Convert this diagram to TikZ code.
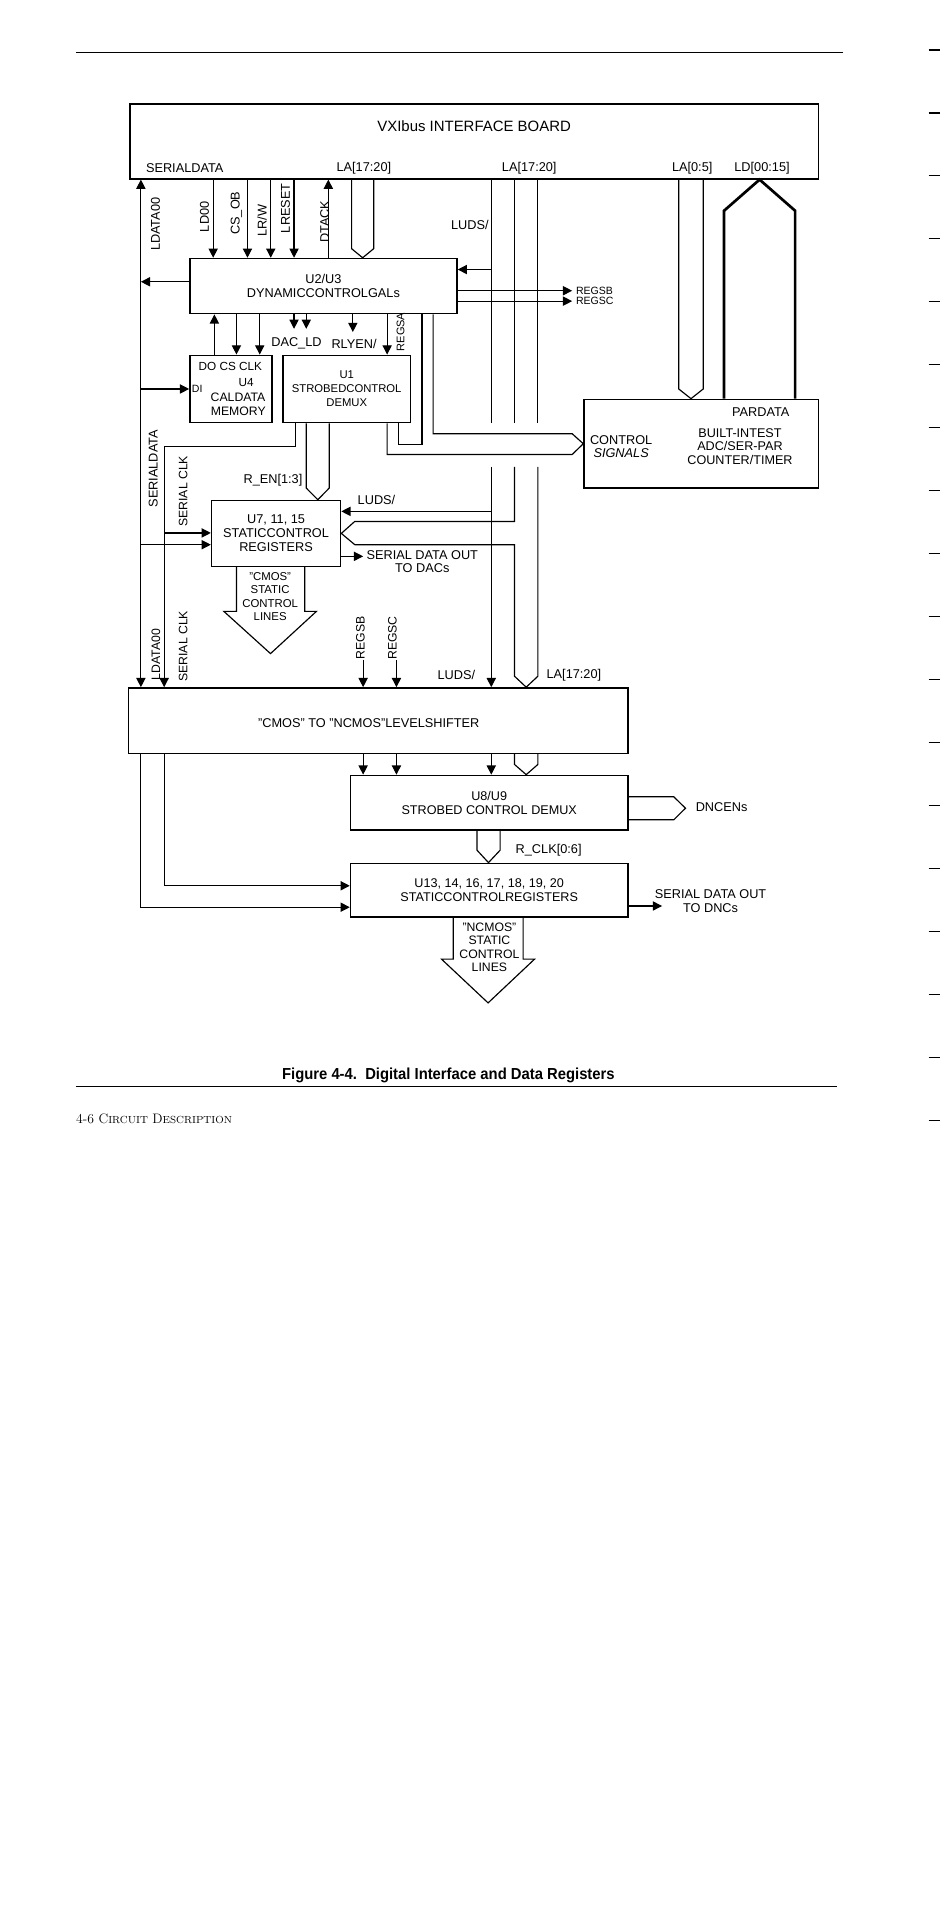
\documentclass[tikz,border=0pt]{standalone}
\usepackage{fontspec}
\setsansfont{Liberation Sans}
\newfontfamily\capfont[FakeStretch=0.93]{Liberation Sans}
\renewcommand{\familydefault}{\sfdefault}
\usetikzlibrary{arrows.meta}
\tikzset{
  bx/.style={draw=black, line width=1.2pt, inner sep=0pt, align=center, font=\fontsize{10.4}{11}\selectfont},
  lb/.style={inner sep=0pt, align=center, font=\fontsize{10.4}{11.4}\selectfont},
  sm/.style={lb, font=\fontsize{8.6}{9.5}\selectfont},
  vl/.style={lb, rotate=90},
  ln/.style={line width=0.95pt},
  ar/.style={ln, -{Triangle[length=7.5pt,width=7.5pt]}},
  dar/.style={ln, {Triangle[length=7.5pt,width=7.5pt]}-{Triangle[length=7.5pt,width=7.5pt]}},
  bus/.style={ln, line join=miter},
}
\begin{document}
\begin{tikzpicture}[x=1pt,y=-1pt]
\useasboundingbox (0,0) rectangle (775,1568);
\fill[white] (0,0) rectangle (775,1568);

% page decorations
\draw[line width=1.3pt] (62,43) -- (688,43);
\foreach \k in {0,...,17} \draw[line width=0.9pt] (758,40.8+51.4*\k) -- (767,40.8+51.4*\k);

% columns
\coordinate (cA) at (115,0);
\coordinate (cB) at (134,0);
\coordinate (cLD) at (174,0);
\coordinate (cCS) at (202,0);
\coordinate (cRW) at (221,0);
\coordinate (cRS) at (240,0);
\coordinate (cDT) at (268,0);
\coordinate (cL1a) at (287,0);
\coordinate (cL1c) at (296,0);
\coordinate (cL1b) at (305,0);
\coordinate (cLU) at (401,0);
\coordinate (cB2a) at (420,0);
\coordinate (cB2c) at (429.5,0);
\coordinate (cB2b) at (439,0);
\coordinate (cA5a) at (554,0);
\coordinate (cA5c) at (564,0);
\coordinate (cA5b) at (574,0);
\coordinate (cLDa) at (591,0);
\coordinate (cLDc) at (620,0);
\coordinate (cLDb) at (649,0);
\coordinate (cU4up) at (175,0);
\coordinate (cU4d1) at (193,0);
\coordinate (cU4d2) at (212,0);
\coordinate (cDA1) at (240,0);
\coordinate (cDA2) at (250,0);
\coordinate (cRL) at (288,0);
\coordinate (cRA) at (316,0);
\coordinate (cLp) at (325.5,0);
\coordinate (cLq) at (344.5,0);
\coordinate (cCS1) at (353.5,0);
\coordinate (cCh) at (467,0);
\coordinate (cSC) at (241,0);
\coordinate (cEa) at (250,0);
\coordinate (cEc) at (259.4,0);
\coordinate (cEb) at (268.7,0);
\coordinate (cV) at (289.6,0);
\coordinate (cSDt) at (296.4,0);
\coordinate (cRB) at (296.4,0);
\coordinate (cRC) at (323.6,0);
\coordinate (cM0) at (182.7,0);
\coordinate (cM1) at (193.1,0);
\coordinate (cMc) at (220.8,0);
\coordinate (cM2) at (248.8,0);
\coordinate (cM3) at (258.3,0);
\coordinate (cDn) at (550,0);
\coordinate (cDt) at (559.5,0);
\coordinate (cCa) at (389.4,0);
\coordinate (cCc) at (398.7,0);
\coordinate (cCb) at (408.2,0);
\coordinate (cSD2) at (540.4,0);
\coordinate (cN0) at (360.4,0);
\coordinate (cN1) at (370,0);
\coordinate (cNc) at (398.4,0);
\coordinate (cN2) at (427,0);
\coordinate (cN3) at (436.3,0);
% rows
\coordinate (rLDs) at (0,172);
\coordinate (rS1) at (0,203);
\coordinate (rLU2) at (0,220);
\coordinate (rU2L) at (0,230);
\coordinate (rDA) at (0,268.4);
\coordinate (rRL) at (0,271);
\coordinate (rS5) at (0,317.5);
\coordinate (rGT) at (0,345);
\coordinate (rCT) at (0,354);
\coordinate (rU) at (0,363);
\coordinate (rSC) at (0,364.4);
\coordinate (rCB) at (0,371);
\coordinate (rGB) at (0,381);
\coordinate (rEs) at (0,398.4);
\coordinate (rLU7) at (0,417.4);
\coordinate (rV1) at (0,425.6);
\coordinate (rU7a) at (0,435);
\coordinate (rU7b) at (0,444.6);
\coordinate (rSD) at (0,454.1);
\coordinate (rMw) at (0,499);
\coordinate (rMt) at (0,533.5);
\coordinate (rS2) at (0,552);
\coordinate (rS3) at (0,624);
\coordinate (rDa) at (0,650.4);
\coordinate (rDm) at (0,659.7);
\coordinate (rDb) at (0,669.1);
\coordinate (rCLs) at (0,694);
\coordinate (rI1) at (0,723);
\coordinate (rI2) at (0,740.5);
\coordinate (rSD2) at (0,739.5);
\coordinate (rNw) at (0,782.9);
\coordinate (rNt) at (0,818.6);

% boxes
\node[bx, minimum width=562pt, minimum height=61pt] (vxi) at (387,115.5) {};
\node[bx, minimum width=218pt, minimum height=45pt] (u2) at (264,233.5) {U2/U3\\DYNAMICCONTROLGALs};
\node[bx, minimum width=67pt, minimum height=55pt] (u4) at (188.5,317.5) {};
\node[bx, minimum width=104pt, minimum height=55pt, font=\fontsize{9.2}{11.5}\selectfont] (u1) at (283,317.5) {U1\\STROBEDCONTROL\\DEMUX};
\node[bx, minimum width=191.3pt, minimum height=72.4pt] (bit) at (572.35,362.2) {};
\node[bx, minimum width=105.3pt, minimum height=53.8pt, font=\fontsize{10.4}{11.6}\selectfont] (u7) at (225.35,435.4) {U7, 11, 15\\STATICCONTROL\\REGISTERS};
\node[bx, minimum width=407.8pt, minimum height=53.5pt] (ls) at (308.6,588.25) {};
\node[bx, minimum width=226.4pt, minimum height=44.6pt, font=\fontsize{10.3}{11.3}\selectfont] (u8) at (399.3,655.2) {U8/U9\\STROBED CONTROL DEMUX};
\node[bx, minimum width=226.4pt, minimum height=43.6pt, font=\fontsize{10.3}{10.8}\selectfont] (u13) at (399.3,726.5) {U13, 14, 16, 17, 18, 19, 20\\STATICCONTROLREGISTERS};

% texts
\node[lb, font=\fontsize{12.2}{14}\selectfont] (vxit) at (387,103) {VXIbus INTERFACE BOARD};
\node[lb, anchor=west] (t1) at (119,137) {SERIALDATA};
\node[lb] (t2) at (297,137) {LA[17:20]};
\node[lb] (t3) at (432,137) {LA[17:20]};
\node[lb] (t4) at (565,137) {LA[0:5]};
\node[lb] (t5) at (622,137) {LD[00:15]};
\node[vl] (v1) at (127,183) {LDATA00};
\node[vl] (v2) at (167,177) {LD00};
\node[vl] (v3) at (193,174) {CS\_OB};
\node[vl] (v4) at (214,180) {LR/W};
\node[vl] (v5) at (233,170) {LRESET};
\node[vl] (v6) at (265,181) {DTACK};
\node[lb, anchor=east] (v7) at (399,184) {LUDS/};
\node[sm, anchor=west] (regsb) at (470,237.3) {REGSB};
\node[sm, anchor=west] (regsc) at (470,245.8) {REGSC};
\node[lb] (dacl) at (242,280.6) {DAC\_LD};
\node[lb] (rlyl) at (289,280.6) {RLYEN/};
\node[vl, font=\fontsize{9}{9.5}\selectfont] (regsa) at (327,271) {REGSA};
\node[lb, font=\fontsize{9.6}{10}\selectfont] (u4a) at (188,299.5) {DO CS CLK};
\node[sm] (u4b) at (161,317.5) {DI};
\node[lb, font=\fontsize{9.6}{10}\selectfont] (u4c) at (201,312.5) {U4};
\node[lb, font=\fontsize{10}{10}\selectfont] (u4d) at (194.3,324) {CALDATA};
\node[lb, font=\fontsize{10}{10}\selectfont] (u4e) at (194.5,336) {MEMORY};
\node[lb] (b1) at (621,336) {PARDATA};
\node[lb] (b2) at (507,359) {CONTROL};
\node[lb, font=\fontsize{10.4}{11}\selectfont\itshape] (b3) at (507,370) {SIGNALS};
\node[lb, font=\fontsize{10.3}{10.9}\selectfont] (b4) at (604,364.4) {BUILT-INTEST\\ADC/SER-PAR\\COUNTER/TIMER};
\node[vl] (v8) at (125,382.6) {SERIALDATA};
\node[vl, font=\fontsize{10}{11}\selectfont] (v9) at (149.6,401) {SERIAL CLK};
\node[vl, font=\fontsize{10}{11}\selectfont] (v10) at (127.3,534.3) {LDATA00};
\node[vl, font=\fontsize{10}{11}\selectfont] (v11) at (149.6,527.5) {SERIAL CLK};
\node[lb, anchor=east] (ren) at (247,391.6) {R\_EN[1:3]};
\node[lb] (lu7) at (307.3,407.9) {LUDS/};
\node[lb, font=\fontsize{10.4}{10.8}\selectfont] (sdo) at (344.7,458.2) {SERIAL DATA OUT\\TO DACs};
\node[lb, font=\fontsize{9.3}{11.1}\selectfont] (cmt) at (220.5,487) {"CMOS"\\STATIC\\CONTROL\\LINES};
\node[vl, font=\fontsize{10}{11}\selectfont] (lrb) at (294.2,520.8) {REGSB};
\node[vl, font=\fontsize{10}{11}\selectfont] (lrc) at (320.3,520.8) {REGSC};
\node[lb] (lu8) at (372.5,550.7) {LUDS/};
\node[lb, anchor=west] (la3) at (446,551) {LA[17:20]};
\node[lb] (lst) at (301,590) {"CMOS" TO "NCMOS"LEVELSHIFTER};
\node[lb] (dnc) at (589,658.4) {DNCENs};
\node[lb] (rclk) at (447.8,694) {R\_CLK[0:6]};
\node[lb, font=\fontsize{10.4}{11.8}\selectfont] (sdo2) at (580,735.4) {SERIAL DATA OUT\\TO DNCs};
\node[lb, font=\fontsize{10}{11}\selectfont] (nct) at (399.5,773.3) {"NCMOS"\\STATIC\\CONTROL\\LINES};

% left vertical lines
\draw[dar] (cA |- vxi.south) -- (cA |- ls.north);
\draw[ar] (u2.west |- rU2L) -- (cA |- rU2L);
\draw[ar] (cA |- u4.west) -- (u4.west);
\draw[ar] (cSC |- u1.south) -- (cSC |- rSC) -- (cB |- rSC) -- (cB |- ls.north);
\draw[ar] (cB |- rU7a) -- (u7.west |- rU7a);
\draw[ar] (cA |- rU7b) -- (u7.west |- rU7b);

% VXI to U2
\foreach \c in {cLD,cCS,cRW,cRS} \draw[ar] (\c |- vxi.south) -- (\c |- u2.north);
\draw[ar] (cDT |- u2.north) -- (cDT |- vxi.south);
\draw[bus] (cL1a |- vxi.south) -- (cL1a |- rS1) -- (cL1c |- u2.north) -- (cL1b |- rS1) -- (cL1b |- vxi.south);

% LUDS and LA bus 2
\draw[ln] (cLU |- vxi.south) -- (cLU |- rGT);
\draw[ln] (cB2a |- vxi.south) -- (cB2a |- rGT);
\draw[ln] (cB2b |- vxi.south) -- (cB2b |- rGT);
\draw[ar] (cLU |- rLU2) -- (u2.east |- rLU2);
\draw[ar] (cLU |- rGB) -- (cLU |- ls.north);
\draw[ar] (cLU |- rLU7) -- (u7.east |- rLU7);
\draw[bus] (cB2a |- rGB) -- (cB2a |- rV1) -- (cV |- rV1) -- (u7.east) -- (cV |- rU7b) -- (cB2a |- rU7b) -- (cB2a |- rS2) -- (cB2c |- ls.north) -- (cB2b |- rS2) -- (cB2b |- rGB);

% REGSB / REGSC
\draw[ar, shorten >=3pt] (u2.east |- regsb.west) -- (regsb.west);
\draw[ar, shorten >=3pt] (u2.east |- regsc.west) -- (regsc.west);

% U2 bottom
\draw[ar] (cU4up |- u4.north) -- (cU4up |- u2.south);
\draw[ar] (cU4d1 |- u2.south) -- (cU4d1 |- u4.north);
\draw[ar] (cU4d2 |- u2.south) -- (cU4d2 |- u4.north);
\draw[ar] (cDA1 |- u2.south) -- (cDA1 |- rDA);
\draw[ar] (cDA2 |- u2.south) -- (cDA2 |- rDA);
\draw[ar] (cRL |- u2.south) -- (cRL |- rRL);
\draw[ar] (cRA |- u2.south) -- (cRA |- u1.north);
\draw[ln] (cLq |- u2.south) -- (cLq |- rU) -- (cLp |- rU) -- (cLp |- u1.south);
\draw[bus] (cCS1 |- u2.south) -- (cCS1 |- rCT) -- (cCh |- rCT) -- (bit.west) -- (cCh |- rCB) -- (cRA |- rCB) -- (cRA |- u1.south);

% buses into BIT
\draw[bus] (cA5a |- vxi.south) -- (cA5a |- rS5) -- (cA5c |- bit.north) -- (cA5b |- rS5) -- (cA5b |- vxi.south);
\draw[line width=2.2pt, line join=miter] (cLDa |- bit.north) -- (cLDa |- rLDs) -- (cLDc |- vxi.south) -- (cLDb |- rLDs) -- (cLDb |- bit.north);

% U1 to U7
\draw[bus] (cEa |- u1.south) -- (cEa |- rEs) -- (cEc |- u7.north) -- (cEb |- rEs) -- (cEb |- u1.south);
\draw[ar] (u7.east |- rSD) -- (cSDt |- rSD);
\draw[ln, line join=miter] (cM1 |- u7.south) -- (cM1 |- rMw) -- (cM0 |- rMw) -- (cMc |- rMt) -- (cM3 |- rMw) -- (cM2 |- rMw) -- (cM2 |- u7.south);

% into level shifter
\draw[ar] (cRB |- lrb.west) -- (cRB |- ls.north);
\draw[ar] (cRC |- lrc.west) -- (cRC |- ls.north);

% below level shifter
\draw[ar] (cRB |- ls.south) -- (cRB |- u8.north);
\draw[ar] (cRC |- ls.south) -- (cRC |- u8.north);
\draw[ar] (cLU |- ls.south) -- (cLU |- u8.north);
\draw[bus] (cB2a |- ls.south) -- (cB2a |- rS3) -- (cB2c |- u8.north) -- (cB2b |- rS3) -- (cB2b |- ls.south);
\draw[ar] (cA |- ls.south) -- (cA |- rI2) -- (u13.west |- rI2);
\draw[ar] (cB |- ls.south) -- (cB |- rI1) -- (u13.west |- rI1);
\draw[bus] (u8.east |- rDa) -- (cDn |- rDa) -- (cDt |- rDm) -- (cDn |- rDb) -- (u8.east |- rDb);
\draw[bus] (cCa |- u8.south) -- (cCa |- rCLs) -- (cCc |- u13.north) -- (cCb |- rCLs) -- (cCb |- u8.south);
\draw[ar] (u13.east |- rSD2) -- (cSD2 |- rSD2);
\draw[ln, line join=miter] (cN1 |- u13.south) -- (cN1 |- rNw) -- (cN0 |- rNw) -- (cNc |- rNt) -- (cN3 |- rNw) -- (cN2 |- rNw) -- (cN2 |- u13.south);

% caption and footer
\node[inner sep=0pt, font=\capfont\bfseries\fontsize{13}{15}\selectfont] (cap) at (366,878) {Figure 4-4.\ \ Digital Interface and Data Registers};
\draw[line width=1.2pt] (62,887) -- (683,887);
\node[anchor=west, inner sep=0pt, font=\rmfamily\fontsize{11.2}{13}\selectfont] (foot) at (62,913) {4-6 C{\fontsize{8.4}{10}\selectfont IRCUIT} D{\fontsize{8.4}{10}\selectfont ESCRIPTION}};
\end{tikzpicture}
\end{document}
